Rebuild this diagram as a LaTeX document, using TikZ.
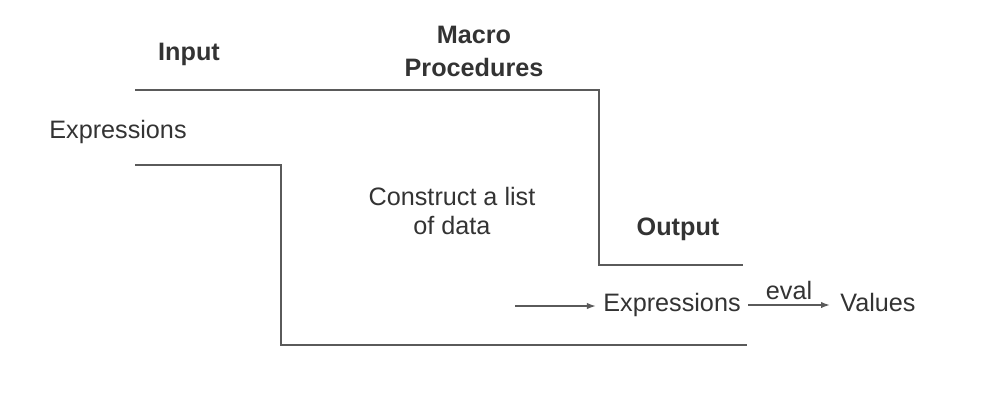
\documentclass[tikz,border=0pt]{standalone}
\usepackage{fontspec}
\setmainfont{Liberation Sans}
\usetikzlibrary{arrows.meta, positioning}
\definecolor{linegray}{HTML}{5A5A5A}
\definecolor{textgray}{HTML}{333333}
\tikzset{
  lbl/.style={font=\fontsize{12.6}{14.5}\selectfont, text=textgray, inner sep=3.5pt, align=center},
  head/.style={lbl, font=\fontsize{12.6}{16.5}\selectfont\bfseries},
  stair/.style={draw=linegray, line width=1pt},
  flow/.style={draw=linegray, line width=0.8pt, -{Latex[length=4.5pt,width=3.2pt]}}
}
\begin{document}
\begin{tikzpicture}[x=0.5pt,y=-0.5pt]
\useasboundingbox (0,0) rectangle (984,404);
\draw[stair] (135,90) -- (599,90) -- (599,265) -- (743,265);
\draw[stair] (135,165) -- (281,165) -- (281,345) -- (747,345);
\node[head] (input) at (189,54) {Input};
\node[head] (macro) at (474,51) {Macro\\Procedures};
\node[head] (output) at (678,229) {Output};
\node[lbl] (exin) at (118,132) {Expressions};
\node[lbl] (construct) at (452,211) {Construct a list\\of data};
\node[lbl] (exout) at (672,305) {Expressions};
\node[lbl, inner sep=5pt, anchor=base west] (values) at (exout.base -| 830,0) {Values};
\coordinate (src) at (515,306);
\draw[flow] (src) -- (src -| exout.west);
\draw[flow] (exout.east) -- node[lbl, above, inner sep=2pt] {eval} (exout.east -| values.west);
\end{tikzpicture}
\end{document}
